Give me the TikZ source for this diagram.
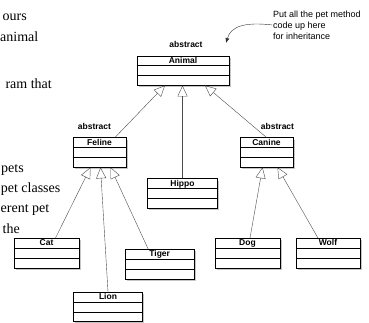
\documentclass[tikz,border=0pt]{standalone}
\usepackage{fontspec}
\setmainfont{Liberation Serif}
\setsansfont{Liberation Sans}
\usetikzlibrary{arrows.meta,shadows,positioning}

\tikzset{
	umlclass/.style={draw, fill=white, inner sep=0pt, minimum height=29.5,
		drop shadow={shadow xshift=1.5pt, shadow yshift=-2pt, opacity=0.45}},
	classname/.style={inner sep=0pt, font=\sffamily\bfseries\fontsize{8.5}{9}\selectfont},
	stereo/.style={inner sep=0pt, font=\sffamily\bfseries\fontsize{8.5}{9}\selectfont},
	note/.style={inner sep=0pt, align=left, font=\sffamily\fontsize{9}{11}\selectfont},
	bookline/.style={anchor=base east, inner sep=0pt, font=\fontsize{14}{17}\selectfont},
	inherits/.style={-{Triangle[open, length=11pt, width=10pt]}, black!70}
}

% class box: name, x, y, width, title
\newcommand{\umlbox}[5]{%
	\node[umlclass, minimum width=#4] (#1) at (#2,#3) {};
	\node[classname, anchor=north] (#1-title) at ([yshift=-1.3pt]#1.north) {#5};
	\draw ([yshift=-10pt]#1.north west) -- ([yshift=-10pt]#1.north east);
	\draw ([yshift=-20pt]#1.north west) -- ([yshift=-20pt]#1.north east);
}

\begin{document}
\begin{tikzpicture}[x=1pt, y=-1pt]
		\clip (0,0) rectangle (369,322);
		
		% book text cut off at the left
		\node[bookline] (txt1) at (27,20) {ours};
		\node[bookline] (txt2) at (38.5,41) {animal};
		\node[bookline] (txt3) at (52,88) {ram that};
		\node[bookline] (txt4) at (24,172) {pets};
		\node[bookline] (txt5) at (60.5,192) {pet classes};
		\node[bookline] (txt6) at (49.5,212) {erent pet};
		\node[bookline] (txt7) at (20,233) {the};
		
		% classes
		\umlbox{animal}{183}{70.5}{92}{Animal}
		\umlbox{feline}{99.5}{152.4}{53}{Feline}
		\umlbox{canine}{266.5}{152.4}{53}{Canine}
		\umlbox{hippo}{182.5}{193.3}{70}{Hippo}
		\umlbox{cat}{46.5}{253}{65}{Cat}
		\umlbox{tiger}{159.7}{264}{69}{Tiger}
		\umlbox{lion}{108}{306.7}{69}{Lion}
		\umlbox{dog}{247.5}{253}{65}{Dog}
		\umlbox{wolf}{328}{253}{64}{Wolf}
		
		\node[stereo, above=8pt of animal.north, xshift=3pt] (animal-abs) {abstract};
		\node[stereo, above=8pt of feline.north, xshift=-5pt] (feline-abs) {abstract};
		\node[stereo, above=8pt of canine.north, xshift=11pt] (canine-abs) {abstract};
		
		% inheritance
		\draw[inherits] ([xshift=15.5pt]feline.north) -- ([xshift=-18pt]animal.south);
		\draw[inherits] (hippo.north) -- (hippo.north |- animal.south);
		\draw[inherits] (canine.north) -- ([xshift=22pt]animal.south);
		
		\draw[inherits] ([xshift=9pt]cat.north) -- ([xshift=-9pt]feline.south);
		\draw[inherits] (lion.north) -- ([xshift=1pt]feline.south);
		\draw[inherits] ([xshift=-11.5pt]tiger.north) -- ([xshift=11pt]feline.south);
		
		\draw[inherits] ([xshift=2.5pt]dog.north) -- ([xshift=-4pt]canine.south);
		\draw[inherits] ([xshift=-10pt]wolf.north) -- ([xshift=11pt]canine.south);
		
		% note
		\node[note, anchor=north west] (note) at (273,10.4) {Put all the pet method\\code up here\\for inheritance};
		\coordinate (noteTip) at (226,43);
		\draw[black!80, -{Latex[length=5pt, width=4pt]}] ([xshift=-1pt]note.west) .. controls (245,22) and (231,26) .. (noteTip);
		
\end{tikzpicture}
\end{document}
